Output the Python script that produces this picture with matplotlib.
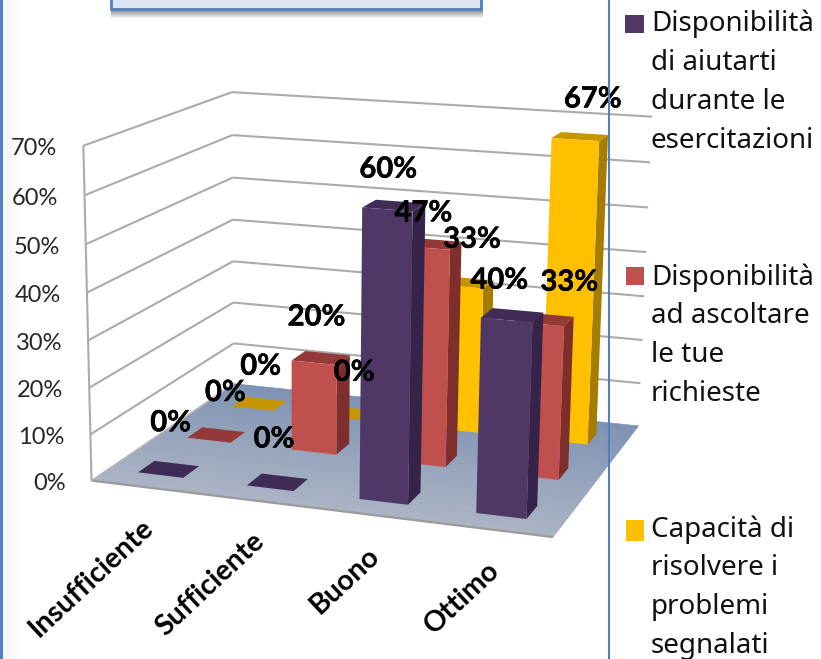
import numpy as np
import matplotlib
matplotlib.use("Agg")
import matplotlib.pyplot as plt
import matplotlib.patheffects as pe
from matplotlib.patches import Rectangle
from matplotlib.lines import Line2D
from matplotlib.colors import to_rgb
from mpl_toolkits.mplot3d.art3d import Poly3DCollection, Line3DCollection

# ---- data ----
categories = ["Insufficiente", "Sufficiente", "Buono", "Ottimo"]
series_names = ["Disponibilità\ndi aiutarti\ndurante le\nesercitazioni",
                "Disponibilità\nad ascoltare\nle tue\nrichieste",
                "Capacità di\nrisolvere i\nproblemi\nsegnalati"]
disponibilita_aiutarti = [0, 0, 60, 40]
disponibilita_ascoltare = [0, 20, 47, 33]
capacita_risolvere = [0, 0, 33, 67]
z_ticks = [0, 10, 20, 30, 40, 50, 60, 70]

W, H = 821, 659
fig = plt.figure(figsize=(W / 100, H / 100), dpi=100, facecolor="white")

# ---- perspective camera, calibrated on the chart box corners ----
world = [(0, 0, 0), (4, 0, 0), (4, 3, 0), (0, 3, 0), (0, 0, 70), (0, 3, 70), (4, 3, 70),
         (4, 3, 10), (0, 3, 30), (0, 0, 30)]
image = [(92, 480), (553, 538), (639, 425), (233, 385), (82, 146), (233, 92), (652, 117),
         (640, 383), (233, 261), (89, 340)]
rows, rhs = [], []
for (a, b, c), (u, v) in zip(world, image):
    rows.append([a, b, c, 1, 0, 0, 0, 0, -u * a, -u * b, -u * c]); rhs.append(u)
    rows.append([0, 0, 0, 0, a, b, c, 1, -v * a, -v * b, -v * c]); rhs.append(v)
p = np.linalg.lstsq(np.array(rows, float), np.array(rhs, float), rcond=None)[0]
M = np.array([p[:4], p[4:8], [0, 1, 0, 0], [p[8], p[9], p[10], 1.0]])


def project(x, y, z):
    h = M @ np.array([x, y, z, 1.0])
    return h[0] / h[3], h[1] / h[3]


ax = fig.add_axes([0, 0, 1, 1], projection="3d", computed_zorder=False)
ax.set_axis_off()
ax.patch.set_alpha(0)
ax.get_proj = lambda: M
ax.apply_aspect = lambda position=None: None
ax.set_autoscale_on(False)
ax.viewLim.intervalx = (0, W)
ax.viewLim.intervaly = (H, 0)

font_bold = dict(family="Lato", fontweight="bold", color="black")
thicker = [pe.withStroke(linewidth=0.35, foreground="black")]

# ---- floor (gradient strips) ----
back_col, front_col = np.array(to_rgb("#7C91B2")), np.array(to_rgb("#ABB3C4"))
n = 40
edges = np.linspace(0, 3, n + 1)
polys = [[(0, edges[i], 0), (4, edges[i], 0), (4, edges[i + 1], 0), (0, edges[i + 1], 0)] for i in range(n)]
cols = [front_col + (back_col - front_col) * (i + .5) / n for i in range(n)]
ax.add_collection3d(Poly3DCollection(polys, facecolors=cols, edgecolors=cols, linewidths=0.5, zorder=1))
ax.add_collection3d(Line3DCollection([[(0, 0, 0), (4, 0, 0)]], colors="#9A9A9A", linewidths=1.6, zorder=2))
ax.add_collection3d(Line3DCollection([[(0, 0, 0), (0, 3, 0)]], colors="#B8B8B8", linewidths=1.2, zorder=2))

# ---- walls ----
grid_col = "#ABABAB"
segs = []
for t in z_ticks[1:]:
    segs += [[(0, 0, t), (0, 3, t)], [(0, 3, t), (4, 3, t)]]
segs.append([(0, 0, 0), (0, 0, 70)])
ax.add_collection3d(Line3DCollection(segs, colors=grid_col, linewidths=1.5, zorder=0.5))
for t in z_ticks:
    px, py = project(0, 0, t)
    ax.text2D(px - 26, py + 3, f"{t}%", ha="right", va="center", family="Lato",
              fontsize=17, color="#262626", zorder=6, transform=ax.transData)

# ---- bars ----
bar_w, bar_d = 0.42, 0.32
none = (0, 0, 0, 0)
styles = [("#4F3866", "#35234A", "#3F2B55"), ("#C0504D", "#7E2F2D", "#93393A"), ("#FFC000", "#A67C00", "#C79500")]
series = [disponibilita_aiutarti, disponibilita_ascoltare, capacita_risolvere]
for j in (2, 1, 0):
    front, side, top = styles[j]
    for i, v in enumerate(series[j]):
        # face order in bar3d: bottom, top, front, back, left, right
        ax.bar3d([i + .485 - bar_w / 2], [j + .48 - bar_d / 2], [0], [bar_w], [bar_d], [v],
                 color=[none, top, front, none, none, side], shade=False,
                 edgecolor="none", zorder=3 + (2 - j) * 0.1 + i * 0.01)

# ---- data labels ----
label_shift = [[(0, 0), (-6, 4), (-9, 15), (-17, 16)],
               [(7, 2), (-7, 5), (-12, 17), (21, 11)],
               [(-1, 5), (-8, 1), (3, 2), (9, 10)]]
for j in range(3):
    for i, v in enumerate(series[j]):
        px, py = project(i + .5, j + .5, v + 10)
        sx, sy = label_shift[j][i]
        ax.text2D(px + sx, py + sy, f"{v}%", ha="center", va="center", fontsize=21, zorder=7,
                  transform=ax.transData, path_effects=thicker, **font_bold)

# ---- category labels ----
for i, c in enumerate(categories):
    px, py = project(i + .5, 0, 0)
    ax.text2D(px + 4, py + 37, c, rotation=43, rotation_mode="anchor", ha="right", va="center",
              fontsize=20.5, zorder=7, transform=ax.transData, **font_bold)


# ---- pixel-placed page decorations ----
def px_rect(x0, y0, x1, y1, **kw):
    r = Rectangle((x0 / W, 1 - y1 / H), (x1 - x0) / W, (y1 - y0) / H, transform=fig.transFigure, **kw)
    fig.add_artist(r)
    return r


for k in range(10):
    px_rect(k * 2, 0, k * 2 + 2, H, fc="#808080", ec="none", alpha=0.10 * (1 - k / 10), zorder=0.5)
for k in range(9):
    px_rect(111, 9 + k, 483, 10 + k, fc="#505050", ec="none", alpha=0.7 * (1 - k / 9), zorder=8)
px_rect(111, -6, 481, 9, fc="#DCE6F2", ec="#4F81BD", lw=2, zorder=9)
px_rect(0, 0, 2.5, H, fc="#4F81BD", ec="none", zorder=9)
fig.add_artist(Line2D([609 / W] * 2, [0, 1], transform=fig.transFigure, color="#4F81BD", lw=1.5, zorder=10))

# ---- legend ----
swatches = [(625, 15, 644, 33), (626, 267, 644, 285), (626, 520, 644, 541)]
text_y = [10, 263, 515]
for (sw, ty, name, st) in zip(swatches, text_y, series_names, styles):
    px_rect(*sw, fc=st[0], ec="none", zorder=9)
    fig.text(651 / W, 1 - ty / H, name, ha="left", va="top", family="Noto Sans", fontsize=20,
             linespacing=1.52, color="#111111", zorder=9)

fig.savefig("out.png", dpi=100)
